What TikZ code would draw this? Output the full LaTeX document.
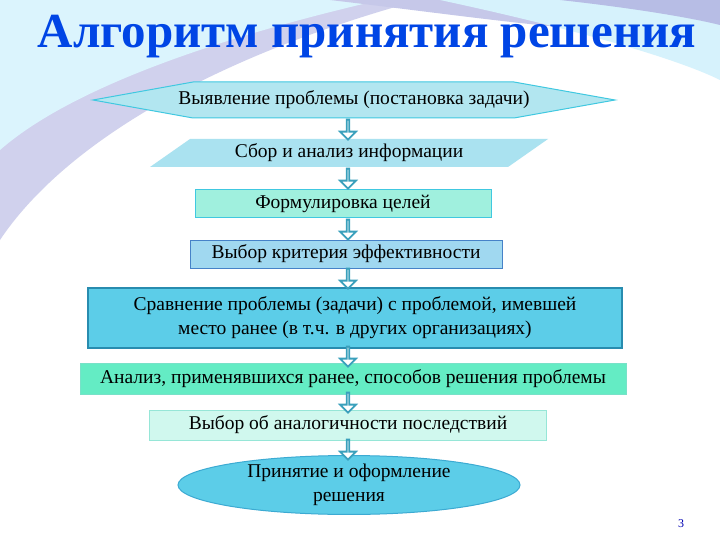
\documentclass[tikz,border=0pt]{standalone}
\usepackage{fontspec}
\setmainfont{Liberation Serif}
\usetikzlibrary{shapes.geometric,shapes.arrows}
\definecolor{bord}{HTML}{40C8E0}
\definecolor{arr}{HTML}{3AA0BC}
\definecolor{f1}{RGB}{178,230,240}
\definecolor{f2}{RGB}{170,226,240}
\definecolor{f3}{RGB}{160,240,222}
\definecolor{f4}{RGB}{160,216,240}
\definecolor{d4}{RGB}{70,130,200}
\definecolor{f5}{RGB}{92,205,232}
\definecolor{d5}{RGB}{40,140,175}
\definecolor{f6}{RGB}{100,236,196}
\definecolor{d6}{RGB}{120,225,200}
\definecolor{f7}{RGB}{208,248,238}
\definecolor{d7}{RGB}{150,230,215}
\definecolor{d8}{RGB}{60,170,210}
\tikzset{
  txt/.style={font=\fontsize{19.5}{24}\selectfont, text=black, align=center},
  down/.style={single arrow, draw=arr, line width=1.8pt, fill=white, rotate=-90, minimum height=20pt, single arrow head extend=5pt, minimum width=16pt, inner sep=0pt},
}
\begin{document}
\begin{tikzpicture}[x=1pt,y=-1pt]
\useasboundingbox (0,0) rectangle (720,540);
\fill[white] (0,0) rectangle (720,540);
\fill[cyan!25!blue!18] (0,0) -- (0,240) .. controls (60,150) and (200,60) .. (420,0) -- cycle;
\fill[cyan!14] (0,0) -- (0,150) .. controls (80,80) and (250,30) .. (380,0) -- cycle;
\fill[cyan!25!blue!22] (330,0) .. controls (500,20) and (620,40) .. (720,30) -- (720,0) -- cycle;
\fill[cyan!16] (440,0) .. controls (580,30) and (680,60) .. (720,80) -- (720,0) -- cycle;
\fill[cyan!30!blue!28] (560,0) .. controls (650,10) and (700,20) .. (720,25) -- (720,0) -- cycle;
\node[font=\fontsize{49}{54}\selectfont\bfseries, text=blue!70!cyan!90!black] (title) at (367,37) {Алгоритм принятия решения};
\filldraw[fill=f1, draw=bord, line width=1pt] (93,100) -- (193,82) -- (514,82) -- (615,100) -- (514,118) -- (193,118) -- cycle;
\node[txt] (s1) at (354,100) {Выявление проблемы (постановка задачи)};
\fill[f2] (150,167) -- (190,139) -- (548,139) -- (508,167) -- cycle;
\node[txt] (s2) at (349,153) {Сбор и анализ информации};
\node[txt, draw=bord, line width=1pt, fill=f3, minimum width=296pt, minimum height=28pt, inner sep=1pt] (s3) at (343,204) {Формулировка целей};
\node[txt, draw=d4, line width=1pt, fill=f4, minimum width=312pt, minimum height=28pt, inner sep=1pt] (s4) at (346,254) {Выбор критерия эффективности};
\node[txt, draw=d5, line width=1.2pt, fill=f5, minimum width=534pt, minimum height=60pt, inner sep=1pt] (s5) at (355,318) {Сравнение проблемы (задачи) с проблемой, имевшей\\место ранее (в т.ч. в других организациях)};
\node[txt, fill=f6, draw=d6, minimum width=546pt, minimum height=31pt, inner sep=1pt] (s6) at (353,379) {Анализ, применявшихся ранее, способов решения проблемы};
\node[txt, fill=f7, draw=d7, minimum width=397pt, minimum height=30pt, inner sep=1pt] (s7) at (348,425) {Выбор об аналогичности последствий};
\node[txt, ellipse, fill=f5, draw=d8, line width=1pt, minimum width=342pt, minimum height=56pt, inner sep=0pt] (s8) at (349,485) {Принятие и оформление\\решения};
\node[down] (a1) at (348,129) {};
\node[down] (a2) at (348,178) {};
\node[down] (a3) at (348,229) {};
\node[down] (a4) at (348,278) {};
\node[down] (a5) at (348,356) {};
\node[down] (a6) at (348,402) {};
\node[down] (a7) at (348,449) {};
\node[font=\fontsize{12}{14}\selectfont, text=blue!70!black] (pg) at (681,524) {3};
\end{tikzpicture}
\end{document}
